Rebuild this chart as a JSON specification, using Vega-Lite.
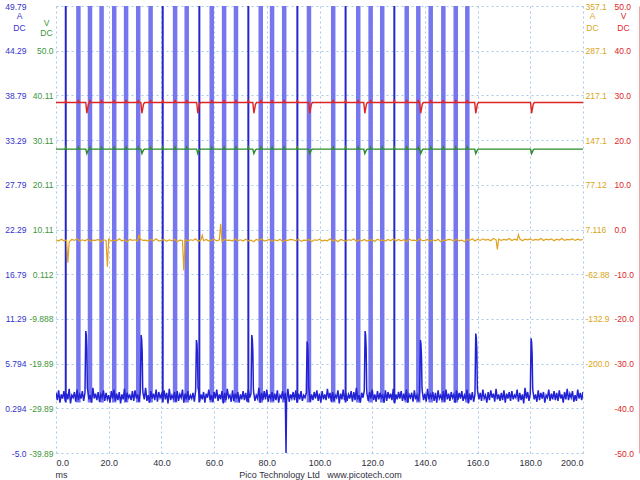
{
  "$schema": "https://vega.github.io/schema/vega-lite/v6.json",
  "width": 527,
  "height": 447,
  "autosize": "none",
  "padding": {"left": 56, "top": 6, "right": 57, "bottom": 27},
  "background": "white",
  "config": {
    "view": {"stroke": null},
    "locale": {"number": {"decimal": ".", "thousands": ",", "grouping": [3], "currency": ["$", ""], "minus": "-"}},
    "axis": {
      "labelFont": "Liberation Sans", "labelFontSize": 9,
      "titleFont": "Liberation Sans", "titleFontSize": 9, "titleFontWeight": "normal",
      "ticks": false, "domain": false, "grid": false, "labelOverlap": false, "labelBound": false
    }
  },
  "datasets": {
    "darkbars": [{"t": 3.7}, {"t": 40.5}, {"t": 54.4}, {"t": 73.0}, {"t": 91.6}, {"t": 109.9}, {"t": 128.4}],
    "lightbars": [
      {"t": 8.5}, {"t": 12.9}, {"t": 17.3}, {"t": 22.1}, {"t": 26.6}, {"t": 31.2}, {"t": 35.9},
      {"t": 45.2}, {"t": 49.6}, {"t": 59.1}, {"t": 63.8}, {"t": 68.3}, {"t": 77.7}, {"t": 82.0},
      {"t": 86.6}, {"t": 96.0}, {"t": 105.2}, {"t": 114.7}, {"t": 119.4}, {"t": 123.8}, {"t": 133.1},
      {"t": 137.5}, {"t": 142.2}, {"t": 147.0}, {"t": 151.7}, {"t": 156.1}
    ],
    "blue": [
      {"t":0,"v":2.2},{"t":0.5,"v":1.3},{"t":1,"v":2.5},{"t":1.5,"v":1.0},{"t":2,"v":2.0},{"t":2.5,"v":1.5},{"t":3,"v":2.4},{"t":3.5,"v":1.2},{"t":4,"v":2.1},{"t":4.5,"v":1.4},{"t":5,"v":2.7},{"t":5.5,"v":0.9},{"t":6,"v":1.9},{"t":6.5,"v":1.6},{"t":7,"v":2.3},{"t":7.5,"v":1.1},{"t":8,"v":2.6},{"t":8.5,"v":1.3},{"t":9,"v":2.0},{"t":9.5,"v":1.5},
      {"t":10,"v":2.4},{"t":10.5,"v":1.2},{"t":11,"v":2.2},{"t":11.3,"v":9.8},{"t":11.5,"v":9.3},{"t":11.7,"v":7.8},{"t":11.9,"v":2.8},{"t":12,"v":2.6},{"t":12.5,"v":1.4},{"t":13,"v":1.9},{"t":13.5,"v":1.0},{"t":14,"v":2.8},{"t":14.5,"v":1.5},{"t":15,"v":2.1},{"t":15.5,"v":1.3},{"t":16,"v":2.3},{"t":16.5,"v":1.1},{"t":17,"v":2.0},{"t":17.5,"v":1.6},{"t":18,"v":2.5},{"t":18.5,"v":1.2},{"t":19,"v":2.2},{"t":19.5,"v":1.4},
      {"t":20,"v":1.9},{"t":20.5,"v":1.0},{"t":21,"v":2.4},{"t":21.5,"v":1.5},{"t":22,"v":2.6},{"t":22.5,"v":1.2},{"t":23,"v":2.1},{"t":23.5,"v":1.3},{"t":24,"v":2.3},{"t":24.5,"v":0.9},{"t":25,"v":2.0},{"t":25.5,"v":1.4},{"t":26,"v":2.7},{"t":26.5,"v":1.1},{"t":27,"v":2.2},{"t":27.5,"v":1.6},{"t":28,"v":1.9},{"t":28.5,"v":1.3},{"t":29,"v":2.4},{"t":29.5,"v":1.2},
      {"t":30,"v":2.5},{"t":30.5,"v":1.5},{"t":31,"v":2.0},{"t":31.5,"v":1.1},{"t":32,"v":2.3},{"t":32.3,"v":9.3},{"t":32.5,"v":8.8},{"t":32.7,"v":7.3},{"t":32.9,"v":2.8},{"t":33,"v":2.2},{"t":33.5,"v":1.4},{"t":34,"v":2.8},{"t":34.5,"v":1.2},{"t":35,"v":1.9},{"t":35.5,"v":1.0},{"t":36,"v":2.4},{"t":36.5,"v":1.5},{"t":37,"v":2.1},{"t":37.5,"v":1.3},{"t":38,"v":2.6},{"t":38.5,"v":1.1},{"t":39,"v":2.3},{"t":39.5,"v":1.6},
      {"t":40,"v":2.0},{"t":40.5,"v":1.2},{"t":41,"v":2.5},{"t":41.5,"v":1.4},{"t":42,"v":2.2},{"t":42.5,"v":0.9},{"t":43,"v":2.7},{"t":43.5,"v":1.3},{"t":44,"v":1.9},{"t":44.5,"v":1.5},{"t":45,"v":2.3},{"t":45.5,"v":1.1},{"t":46,"v":2.4},{"t":46.5,"v":1.2},{"t":47,"v":2.0},{"t":47.5,"v":1.6},{"t":48,"v":2.6},{"t":48.5,"v":1.0},{"t":49,"v":2.1},{"t":49.5,"v":1.4},
      {"t":50,"v":2.4},{"t":50.5,"v":1.3},{"t":51,"v":1.9},{"t":51.5,"v":1.5},{"t":52,"v":2.2},{"t":52.5,"v":1.1},{"t":53,"v":2.5},{"t":53.3,"v":8.7},{"t":53.5,"v":8.2},{"t":53.7,"v":6.7},{"t":53.9,"v":2.8},{"t":54,"v":2.8},{"t":54.5,"v":1.2},{"t":55,"v":2.0},{"t":55.5,"v":1.4},{"t":56,"v":2.3},{"t":56.5,"v":1.0},{"t":57,"v":2.1},{"t":57.5,"v":1.6},{"t":58,"v":2.6},{"t":58.5,"v":1.3},{"t":59,"v":1.9},{"t":59.5,"v":1.1},
      {"t":60,"v":2.3},{"t":60.5,"v":1.5},{"t":61,"v":2.6},{"t":61.5,"v":1.2},{"t":62,"v":2.0},{"t":62.5,"v":1.4},{"t":63,"v":2.4},{"t":63.5,"v":0.9},{"t":64,"v":2.2},{"t":64.5,"v":1.3},{"t":65,"v":2.7},{"t":65.5,"v":1.6},{"t":66,"v":1.9},{"t":66.5,"v":1.1},{"t":67,"v":2.5},{"t":67.5,"v":1.2},{"t":68,"v":2.1},{"t":68.5,"v":1.5},{"t":69,"v":2.3},{"t":69.5,"v":1.0},
      {"t":70,"v":2.0},{"t":70.5,"v":1.4},{"t":71,"v":2.4},{"t":71.5,"v":1.3},{"t":72,"v":2.2},{"t":72.5,"v":1.1},{"t":73,"v":2.6},{"t":73.5,"v":1.6},{"t":74,"v":2.1},{"t":74.3,"v":9.3},{"t":74.5,"v":8.8},{"t":74.7,"v":7.3},{"t":74.9,"v":2.8},{"t":75,"v":2.3},{"t":75.5,"v":1.2},{"t":76,"v":1.9},{"t":76.5,"v":1.5},{"t":77,"v":2.8},{"t":77.5,"v":1.0},{"t":78,"v":2.2},{"t":78.5,"v":1.3},{"t":79,"v":2.4},{"t":79.5,"v":1.4},
      {"t":80,"v":2.6},{"t":80.5,"v":1.1},{"t":81,"v":2.0},{"t":81.5,"v":1.5},{"t":82,"v":2.3},{"t":82.5,"v":1.2},{"t":83,"v":2.1},{"t":83.5,"v":1.3},{"t":84,"v":2.5},{"t":84.5,"v":1.0},{"t":85,"v":1.9},{"t":85.5,"v":1.6},{"t":86,"v":2.4},{"t":86.5,"v":1.4},{"t":87,"v":2.2},{"t":87.3,"v":-5.2},{"t":87.5,"v":1.2},{"t":88,"v":2.7},{"t":88.5,"v":1.1},{"t":89,"v":2.0},{"t":89.5,"v":1.5},
      {"t":90,"v":2.3},{"t":90.5,"v":1.3},{"t":91,"v":2.5},{"t":91.5,"v":1.0},{"t":92,"v":2.1},{"t":92.5,"v":1.4},{"t":93,"v":2.4},{"t":93.5,"v":1.2},{"t":94,"v":1.9},{"t":94.5,"v":1.6},{"t":95,"v":2.2},{"t":95.3,"v":8.5},{"t":95.5,"v":8.0},{"t":95.7,"v":6.5},{"t":95.9,"v":2.8},{"t":96,"v":2.6},{"t":96.5,"v":1.1},{"t":97,"v":2.0},{"t":97.5,"v":1.3},{"t":98,"v":2.3},{"t":98.5,"v":1.5},{"t":99,"v":2.5},{"t":99.5,"v":1.2},
      {"t":100,"v":2.1},{"t":100.5,"v":1.0},{"t":101,"v":2.4},{"t":101.5,"v":1.4},{"t":102,"v":2.0},{"t":102.5,"v":1.3},{"t":103,"v":2.7},{"t":103.5,"v":1.5},{"t":104,"v":2.2},{"t":104.5,"v":1.1},{"t":105,"v":2.3},{"t":105.5,"v":1.2},{"t":106,"v":1.9},{"t":106.5,"v":1.6},{"t":107,"v":2.5},{"t":107.5,"v":0.9},{"t":108,"v":2.1},{"t":108.5,"v":1.4},{"t":109,"v":2.6},{"t":109.5,"v":1.3},
      {"t":110,"v":2.2},{"t":110.5,"v":1.2},{"t":111,"v":2.0},{"t":111.5,"v":1.5},{"t":112,"v":2.4},{"t":112.5,"v":1.1},{"t":113,"v":2.3},{"t":113.5,"v":1.3},{"t":114,"v":2.8},{"t":114.5,"v":1.4},{"t":115,"v":1.9},{"t":115.5,"v":1.0},{"t":116,"v":2.2},{"t":116.5,"v":1.6},{"t":117,"v":2.5},{"t":117.3,"v":9.8},{"t":117.5,"v":9.3},{"t":117.7,"v":7.8},{"t":117.9,"v":2.8},{"t":118,"v":2.1},{"t":118.5,"v":1.2},{"t":119,"v":2.3},{"t":119.5,"v":1.5},
      {"t":120,"v":2.6},{"t":120.5,"v":1.3},{"t":121,"v":2.0},{"t":121.5,"v":1.1},{"t":122,"v":2.4},{"t":122.5,"v":1.4},{"t":123,"v":2.2},{"t":123.5,"v":1.6},{"t":124,"v":1.9},{"t":124.5,"v":1.0},{"t":125,"v":2.5},{"t":125.5,"v":1.2},{"t":126,"v":2.3},{"t":126.5,"v":1.5},{"t":127,"v":2.1},{"t":127.5,"v":1.3},{"t":128,"v":2.7},{"t":128.5,"v":0.9},{"t":129,"v":2.0},{"t":129.5,"v":1.4},
      {"t":130,"v":2.3},{"t":130.5,"v":1.5},{"t":131,"v":2.4},{"t":131.5,"v":1.2},{"t":132,"v":2.1},{"t":132.5,"v":1.3},{"t":133,"v":2.6},{"t":133.5,"v":1.0},{"t":134,"v":2.0},{"t":134.5,"v":1.6},{"t":135,"v":2.2},{"t":135.5,"v":1.1},{"t":136,"v":2.5},{"t":136.5,"v":1.4},{"t":137,"v":1.9},{"t":137.5,"v":1.2},{"t":138,"v":2.3},{"t":138.3,"v":8.7},{"t":138.5,"v":8.2},{"t":138.7,"v":6.7},{"t":138.9,"v":2.8},{"t":139,"v":2.4},{"t":139.5,"v":1.3},
      {"t":140,"v":2.1},{"t":140.5,"v":1.1},{"t":141,"v":2.7},{"t":141.5,"v":1.4},{"t":142,"v":2.0},{"t":142.5,"v":1.6},{"t":143,"v":2.3},{"t":143.5,"v":1.2},{"t":144,"v":2.2},{"t":144.5,"v":1.0},{"t":145,"v":2.5},{"t":145.5,"v":1.5},{"t":146,"v":1.9},{"t":146.5,"v":1.3},{"t":147,"v":2.4},{"t":147.5,"v":1.1},{"t":148,"v":2.6},{"t":148.5,"v":1.4},{"t":149,"v":2.1},{"t":149.5,"v":1.2},
      {"t":150,"v":2.3},{"t":150.5,"v":1.6},{"t":151,"v":2.0},{"t":151.5,"v":1.0},{"t":152,"v":2.5},{"t":152.5,"v":1.3},{"t":153,"v":2.2},{"t":153.5,"v":1.5},{"t":154,"v":2.4},{"t":154.5,"v":1.2},{"t":155,"v":1.9},{"t":155.5,"v":1.4},{"t":156,"v":2.6},{"t":156.5,"v":0.9},{"t":157,"v":2.1},{"t":157.5,"v":1.3},{"t":158,"v":2.3},{"t":158.5,"v":1.1},{"t":159,"v":2.0},{"t":159.3,"v":9.5},{"t":159.5,"v":9.0},{"t":159.7,"v":7.5},{"t":159.9,"v":2.8},
      {"t":160,"v":2.4},{"t":160.5,"v":1.4},{"t":161,"v":2.2},{"t":161.5,"v":1.2},{"t":162,"v":2.6},{"t":162.5,"v":1.5},{"t":163,"v":1.9},{"t":163.5,"v":1.0},{"t":164,"v":2.3},{"t":164.5,"v":1.3},{"t":165,"v":2.5},{"t":165.5,"v":1.6},{"t":166,"v":2.1},{"t":166.5,"v":1.1},{"t":167,"v":2.7},{"t":167.5,"v":1.4},{"t":168,"v":2.0},{"t":168.5,"v":1.2},{"t":169,"v":2.2},{"t":169.5,"v":1.3},
      {"t":170,"v":2.5},{"t":170.5,"v":1.0},{"t":171,"v":2.1},{"t":171.5,"v":1.5},{"t":172,"v":2.3},{"t":172.5,"v":1.2},{"t":173,"v":2.4},{"t":173.5,"v":1.4},{"t":174,"v":1.9},{"t":174.5,"v":1.6},{"t":175,"v":2.6},{"t":175.5,"v":1.1},{"t":176,"v":2.2},{"t":176.5,"v":1.3},{"t":177,"v":2.0},{"t":177.5,"v":0.9},{"t":178,"v":2.8},{"t":178.5,"v":1.5},{"t":179,"v":2.3},{"t":179.5,"v":1.2},
      {"t":180,"v":2.1},{"t":180.3,"v":8.9},{"t":180.5,"v":8.4},{"t":180.7,"v":6.9},{"t":180.9,"v":2.8},{"t":181,"v":2.4},{"t":181.5,"v":1.4},{"t":182,"v":2.0},{"t":182.5,"v":1.1},{"t":183,"v":2.5},{"t":183.5,"v":1.3},{"t":184,"v":2.2},{"t":184.5,"v":1.5},{"t":185,"v":2.3},{"t":185.5,"v":1.0},{"t":186,"v":1.9},{"t":186.5,"v":1.6},{"t":187,"v":2.6},{"t":187.5,"v":1.2},{"t":188,"v":2.1},{"t":188.5,"v":1.4},{"t":189,"v":2.4},{"t":189.5,"v":1.3},
      {"t":190,"v":2.2},{"t":190.5,"v":1.2},{"t":191,"v":2.5},{"t":191.5,"v":1.5},{"t":192,"v":2.0},{"t":192.5,"v":1.0},{"t":193,"v":2.3},{"t":193.5,"v":1.4},{"t":194,"v":2.7},{"t":194.5,"v":1.3},{"t":195,"v":2.1},{"t":195.5,"v":1.6},{"t":196,"v":2.4},{"t":196.5,"v":1.1},{"t":197,"v":1.9},{"t":197.5,"v":1.2},{"t":198,"v":2.6},{"t":198.5,"v":1.5},{"t":199,"v":2.2},{"t":199.5,"v":1.3},
      {"t":200,"v":2.3}
    ],
    "orange": [
      {"t":0,"v":-9},{"t":1,"v":-11},{"t":2,"v":-8},{"t":3,"v":-10.5},{"t":4,"v":-9.5},{"t":4.5,"v":-45},{"t":5,"v":-12},{"t":6,"v":-8.5},{"t":7,"v":-10},{"t":8,"v":-7.5},{"t":9,"v":-11},
      {"t":10,"v":-9},{"t":11,"v":-10.5},{"t":12,"v":-8},{"t":13,"v":-11.5},{"t":14,"v":-9.5},{"t":15,"v":-10},{"t":16,"v":-8.5},{"t":17,"v":-12},{"t":18,"v":-9},{"t":19,"v":-10},{"t":19.5,"v":-51},
      {"t":20,"v":-8},{"t":21,"v":-11},{"t":22,"v":-9.5},{"t":23,"v":-10.5},{"t":24,"v":-7.5},{"t":25,"v":-11},{"t":26,"v":-9},{"t":27,"v":-12},{"t":28,"v":-8.5},{"t":29,"v":-10},
      {"t":30,"v":-9},{"t":31,"v":-11.5},{"t":31.5,"v":-1},{"t":32,"v":-8},{"t":33,"v":-10},{"t":34,"v":-9.5},{"t":35,"v":-11},{"t":36,"v":-8.5},{"t":37,"v":-10.5},{"t":38,"v":-7.5},{"t":39,"v":-11},
      {"t":40,"v":-10},{"t":41,"v":-8.5},{"t":42,"v":-11.5},{"t":43,"v":-9},{"t":44,"v":-10.5},{"t":45,"v":-8},{"t":46,"v":-12},{"t":47,"v":-9.5},{"t":48,"v":-10},{"t":48.5,"v":-57},{"t":49,"v":-8.5},
      {"t":50,"v":-11},{"t":51,"v":-9},{"t":52,"v":-10},{"t":53,"v":-7.5},{"t":54,"v":-11.5},{"t":55,"v":-9},{"t":55.5,"v":-2},{"t":56,"v":-10.5},{"t":57,"v":-8.5},{"t":58,"v":-11},{"t":59,"v":-9.5},
      {"t":60,"v":-8.5},{"t":61,"v":-10.5},{"t":62,"v":-9},{"t":62.5,"v":16},{"t":63,"v":-12},{"t":64,"v":-8},{"t":65,"v":-10},{"t":66,"v":-9.5},{"t":67,"v":-11},{"t":68,"v":-7.5},{"t":69,"v":-10.5},
      {"t":70,"v":-9},{"t":71,"v":-11},{"t":72,"v":-8},{"t":73,"v":-10.5},{"t":74,"v":-9.5},{"t":75,"v":-12},{"t":76,"v":-8.5},{"t":77,"v":-10},{"t":78,"v":-7.5},{"t":79,"v":-11},
      {"t":80,"v":-10},{"t":81,"v":-8.5},{"t":82,"v":-11.5},{"t":83,"v":-9},{"t":84,"v":-10.5},{"t":85,"v":-8},{"t":86,"v":-12},{"t":87,"v":-9.5},{"t":88,"v":-10},{"t":89,"v":-8.5},
      {"t":90,"v":-9},{"t":91,"v":-10.5},{"t":92,"v":-8},{"t":93,"v":-11.5},{"t":94,"v":-9.5},{"t":95,"v":-10},{"t":96,"v":-8.5},{"t":97,"v":-12},{"t":98,"v":-9},{"t":99,"v":-10},
      {"t":100,"v":-8},{"t":101,"v":-11},{"t":102,"v":-9.5},{"t":103,"v":-10.5},{"t":104,"v":-7.5},{"t":105,"v":-11},{"t":106,"v":-9},{"t":107,"v":-12},{"t":108,"v":-8.5},{"t":109,"v":-10},
      {"t":110,"v":-11},{"t":111,"v":-9},{"t":112,"v":-10},{"t":113,"v":-7.5},{"t":114,"v":-11.5},{"t":115,"v":-9},{"t":116,"v":-10.5},{"t":117,"v":-8.5},{"t":118,"v":-11},{"t":119,"v":-9.5},
      {"t":120,"v":-9},{"t":121,"v":-11.5},{"t":122,"v":-8},{"t":123,"v":-10},{"t":124,"v":-9.5},{"t":125,"v":-11},{"t":126,"v":-8.5},{"t":127,"v":-10.5},{"t":128,"v":-7.5},{"t":129,"v":-11},
      {"t":130,"v":-8.5},{"t":131,"v":-10.5},{"t":132,"v":-9},{"t":133,"v":-12},{"t":134,"v":-8},{"t":135,"v":-10},{"t":136,"v":-9.5},{"t":137,"v":-11},{"t":138,"v":-7.5},{"t":139,"v":-10.5},
      {"t":140,"v":-10},{"t":141,"v":-8.5},{"t":142,"v":-11.5},{"t":143,"v":-9},{"t":144,"v":-10.5},{"t":145,"v":-8},{"t":146,"v":-12},{"t":147,"v":-9.5},{"t":148,"v":-10},{"t":149,"v":-8.5},
      {"t":150,"v":-9},{"t":151,"v":-11},{"t":152,"v":-8},{"t":153,"v":-10.5},{"t":154,"v":-9.5},{"t":155,"v":-12},{"t":156,"v":-8.5},{"t":157,"v":-10},{"t":158,"v":-7.5},{"t":159,"v":-11},
      {"t":160,"v":-8},{"t":161,"v":-10},{"t":162,"v":-7.5},{"t":163,"v":-9.5},{"t":164,"v":-8.5},{"t":165,"v":-10.5},{"t":166,"v":-7},{"t":167,"v":-9},{"t":167.5,"v":-24},{"t":168,"v":-8},{"t":169,"v":-10},
      {"t":170,"v":-8.5},{"t":171,"v":-9.5},{"t":172,"v":-7},{"t":173,"v":-10},{"t":174,"v":-8},{"t":175,"v":-9.5},{"t":175.5,"v":-1},{"t":176,"v":-7.5},{"t":177,"v":-10.5},{"t":178,"v":-8},{"t":179,"v":-9},
      {"t":180,"v":-7.5},{"t":181,"v":-10},{"t":182,"v":-8.5},{"t":183,"v":-9.5},{"t":184,"v":-7},{"t":185,"v":-10},{"t":186,"v":-8},{"t":187,"v":-9},{"t":188,"v":-7.5},{"t":189,"v":-10.5},
      {"t":190,"v":-8},{"t":191,"v":-9.5},{"t":192,"v":-7},{"t":193,"v":-10},{"t":194,"v":-8.5},{"t":195,"v":-9},{"t":196,"v":-7.5},{"t":197,"v":-10},{"t":198,"v":-8},{"t":199,"v":-9.5},
      {"t":200,"v":-8.5}
    ],
    "rg": [
      {"t":0,"r":28.4,"g":28.1},
      {"t":3.5,"r":28.4,"g":28.1},{"t":3.7,"r":29.0,"g":28.5},{"t":3.9,"r":28.4,"g":28.1},
      {"t":8.3,"r":28.4,"g":28.1},{"t":8.5,"r":29.0,"g":28.5},{"t":8.7,"r":28.4,"g":28.1},
      {"t":11.3,"r":28.4,"g":28.1},{"t":11.7,"r":26.0,"g":27.1},{"t":12.3,"r":28.0,"g":27.9},{"t":12.7,"r":28.4,"g":28.1},
      {"t":12.9,"r":29.0,"g":28.5},{"t":13.1,"r":28.4,"g":28.1},
      {"t":17.1,"r":28.4,"g":28.1},{"t":17.3,"r":29.0,"g":28.5},{"t":17.5,"r":28.4,"g":28.1},
      {"t":21.9,"r":28.4,"g":28.1},{"t":22.1,"r":29.0,"g":28.5},{"t":22.3,"r":28.4,"g":28.1},
      {"t":26.4,"r":28.4,"g":28.1},{"t":26.6,"r":29.0,"g":28.5},{"t":26.8,"r":28.4,"g":28.1},
      {"t":31.0,"r":28.4,"g":28.1},{"t":31.2,"r":29.0,"g":28.5},{"t":31.4,"r":28.4,"g":28.1},
      {"t":32.2,"r":28.4,"g":28.1},{"t":32.6,"r":26.0,"g":27.1},{"t":33.2,"r":28.0,"g":27.9},{"t":33.6,"r":28.4,"g":28.1},
      {"t":35.7,"r":28.4,"g":28.1},{"t":35.9,"r":29.0,"g":28.5},{"t":36.1,"r":28.4,"g":28.1},
      {"t":40.3,"r":28.4,"g":28.1},{"t":40.5,"r":29.0,"g":28.5},{"t":40.7,"r":28.4,"g":28.1},
      {"t":45.0,"r":28.4,"g":28.1},{"t":45.2,"r":29.0,"g":28.5},{"t":45.4,"r":28.4,"g":28.1},
      {"t":49.4,"r":28.4,"g":28.1},{"t":49.6,"r":29.0,"g":28.5},{"t":49.8,"r":28.4,"g":28.1},
      {"t":53.4,"r":28.4,"g":28.1},{"t":53.8,"r":26.0,"g":27.1},{"t":54.4,"r":28.0,"g":27.9},{"t":54.8,"r":28.4,"g":28.1},
      {"t":58.9,"r":28.4,"g":28.1},{"t":59.1,"r":29.0,"g":28.5},{"t":59.3,"r":28.4,"g":28.1},
      {"t":63.6,"r":28.4,"g":28.1},{"t":63.8,"r":29.0,"g":28.5},{"t":64.0,"r":28.4,"g":28.1},
      {"t":68.1,"r":28.4,"g":28.1},{"t":68.3,"r":29.0,"g":28.5},{"t":68.5,"r":28.4,"g":28.1},
      {"t":72.8,"r":28.4,"g":28.1},{"t":73.0,"r":29.0,"g":28.5},{"t":73.2,"r":28.4,"g":28.1},
      {"t":74.7,"r":28.4,"g":28.1},{"t":75.1,"r":26.0,"g":27.1},{"t":75.7,"r":28.0,"g":27.9},{"t":76.1,"r":28.4,"g":28.1},
      {"t":77.5,"r":28.4,"g":28.1},{"t":77.7,"r":29.0,"g":28.5},{"t":77.9,"r":28.4,"g":28.1},
      {"t":81.8,"r":28.4,"g":28.1},{"t":82.0,"r":29.0,"g":28.5},{"t":82.2,"r":28.4,"g":28.1},
      {"t":86.4,"r":28.4,"g":28.1},{"t":86.6,"r":29.0,"g":28.5},{"t":86.8,"r":28.4,"g":28.1},
      {"t":91.4,"r":28.4,"g":28.1},{"t":91.6,"r":29.0,"g":28.5},{"t":91.8,"r":28.4,"g":28.1},
      {"t":95.9,"r":28.4,"g":28.1},{"t":96.3,"r":26.0,"g":27.1},{"t":96.9,"r":28.0,"g":27.9},{"t":97.3,"r":28.4,"g":28.1},
      {"t":105.0,"r":28.4,"g":28.1},{"t":105.2,"r":29.0,"g":28.5},{"t":105.4,"r":28.4,"g":28.1},
      {"t":109.7,"r":28.4,"g":28.1},{"t":109.9,"r":29.0,"g":28.5},{"t":110.1,"r":28.4,"g":28.1},
      {"t":114.5,"r":28.4,"g":28.1},{"t":114.7,"r":29.0,"g":28.5},{"t":114.9,"r":28.4,"g":28.1},
      {"t":116.8,"r":28.4,"g":28.1},{"t":117.2,"r":26.0,"g":27.1},{"t":117.8,"r":28.0,"g":27.9},{"t":118.2,"r":28.4,"g":28.1},
      {"t":119.2,"r":28.4,"g":28.1},{"t":119.4,"r":29.0,"g":28.5},{"t":119.6,"r":28.4,"g":28.1},
      {"t":123.6,"r":28.4,"g":28.1},{"t":123.8,"r":29.0,"g":28.5},{"t":124.0,"r":28.4,"g":28.1},
      {"t":128.2,"r":28.4,"g":28.1},{"t":128.4,"r":29.0,"g":28.5},{"t":128.6,"r":28.4,"g":28.1},
      {"t":132.9,"r":28.4,"g":28.1},{"t":133.1,"r":29.0,"g":28.5},{"t":133.3,"r":28.4,"g":28.1},
      {"t":137.3,"r":28.4,"g":28.1},{"t":137.5,"r":29.0,"g":28.5},{"t":137.7,"r":28.4,"g":28.1},
      {"t":138.0,"r":28.4,"g":28.1},{"t":138.4,"r":26.0,"g":27.1},{"t":139.0,"r":28.0,"g":27.9},{"t":139.4,"r":28.4,"g":28.1},
      {"t":142.0,"r":28.4,"g":28.1},{"t":142.2,"r":29.0,"g":28.5},{"t":142.4,"r":28.4,"g":28.1},
      {"t":146.8,"r":28.4,"g":28.1},{"t":147.0,"r":29.0,"g":28.5},{"t":147.2,"r":28.4,"g":28.1},
      {"t":151.5,"r":28.4,"g":28.1},{"t":151.7,"r":29.0,"g":28.5},{"t":151.9,"r":28.4,"g":28.1},
      {"t":155.9,"r":28.4,"g":28.1},{"t":156.1,"r":29.0,"g":28.5},{"t":156.3,"r":28.4,"g":28.1},
      {"t":158.9,"r":28.4,"g":28.1},{"t":159.3,"r":26.0,"g":27.1},{"t":159.9,"r":28.0,"g":27.9},{"t":160.3,"r":28.4,"g":28.1},
      {"t":180.1,"r":28.4,"g":28.1},{"t":180.5,"r":26.0,"g":27.1},{"t":181.1,"r":28.0,"g":27.9},{"t":181.5,"r":28.4,"g":28.1},
      {"t":200,"r":28.4,"g":28.1}
    ]
  },
  "resolve": {"scale": {"y": "independent"}, "axis": {"x": "independent", "y": "independent"}},
  "layer": [
    {
      "layer": [
        {
          "data": {"name": "lightbars"},
          "mark": {"type": "rule", "clip": true, "color": "#7676ee", "strokeWidth": 4.5},
          "encoding": {
            "x": {
              "field": "t", "type": "quantitative",
              "scale": {"domain": [0, 200], "nice": false, "zero": false},
              "axis": {
                "orient": "bottom",
                "values": [0, 20, 40, 60, 80, 100, 120, 140, 160, 180, 200],
                "format": ".1f", "labelColor": "#303040", "labelPadding": 5,
                "grid": true, "gridColor": "#a8c8e8", "gridDash": [2, 3],
                "title": "Pico Technology Ltd\u00a0\u00a0\u00a0www.picotech.com",
                "titleColor": "#303040", "titleX": 264, "titleY": 21.5,
                "titleAlign": "center", "titleBaseline": "middle"
              }
            },
            "y": {
              "datum": 1.0, "type": "quantitative",
              "scale": {"domain": [-5.206, 49.794], "nice": false, "zero": false},
              "axis": {
                "orient": "left",
                "values": [49.794, 44.294, 38.794, 33.294, 27.794, 22.294, 16.794, 11.294, 5.794, 0.294, -5.206],
                "labelExpr": "datum.value < -5.1 ? '-5.0' : format(datum.value, '.4~r')",
                "labelColor": "#3333cc", "labelPadding": 30, "labelFontSize": 8.5,
                "grid": true, "gridColor": "#a8c8e8", "gridDash": [2, 3],
                "title": ["A", "DC"], "titleColor": "#3333cc", "titleAngle": 0, "titleFontSize": 8.5,
                "titleX": -37, "titleY": 5, "titleAlign": "center", "titleBaseline": "top", "titleLineHeight": 12
              }
            },
            "y2": {"datum": 49.794}
          }
        },
        {
          "data": {"name": "darkbars"},
          "mark": {"type": "rule", "clip": true, "color": "#2626cc", "strokeWidth": 2},
          "encoding": {
            "x": {"field": "t", "type": "quantitative"},
            "y": {"datum": 1.0, "type": "quantitative"},
            "y2": {"datum": 49.794}
          }
        },
        {
          "data": {"name": "blue"},
          "mark": {"type": "line", "clip": true, "color": "#2222d4", "strokeWidth": 1.5},
          "encoding": {
            "x": {"field": "t", "type": "quantitative"},
            "y": {"field": "v", "type": "quantitative"}
          }
        }
      ]
    },
    {
      "data": {"name": "rg"},
      "mark": {"type": "line", "clip": true, "color": "#2a8c2a", "strokeWidth": 1.4},
      "encoding": {
        "x": {"field": "t", "type": "quantitative", "axis": null},
        "y": {
          "field": "g", "type": "quantitative",
          "scale": {"domain": [-39.888, 60.112], "nice": false, "zero": false},
          "axis": {
            "orient": "left",
            "values": [50.112, 40.112, 30.112, 20.112, 10.112, 0.112, -9.888, -19.888, -29.888, -39.888],
            "labelExpr": "datum.value > 50 && datum.value < 51 ? '50.0' : format(datum.value, '.4~r')",
            "labelColor": "#3c963c", "labelPadding": 3, "labelFontSize": 8.5,
            "title": ["V", "DC"], "titleColor": "#3c963c", "titleAngle": 0, "titleFontSize": 8.5,
            "titleX": -10, "titleY": 12.5, "titleAlign": "center", "titleBaseline": "top", "titleLineHeight": 10
          }
        }
      }
    },
    {
      "data": {"name": "orange"},
      "mark": {"type": "line", "clip": true, "color": "#e0a21e", "strokeWidth": 1.2},
      "encoding": {
        "x": {"field": "t", "type": "quantitative", "axis": null},
        "y": {
          "field": "v", "type": "quantitative",
          "scale": {"domain": [-342.884, 357.116], "nice": false, "zero": false},
          "axis": {
            "orient": "right",
            "values": [357.116, 287.116, 217.116, 147.116, 77.116, 7.116, -62.884, -132.884, -202.884],
            "labelExpr": "datum.value < -200 ? '-200.0' : format(datum.value, '.4~r')",
            "labelColor": "#d9a520", "labelPadding": 2, "labelFontSize": 8.5,
            "title": ["A", "DC"], "titleColor": "#d9a520", "titleAngle": 0, "titleFontSize": 8.5,
            "titleX": 9, "titleY": 5, "titleAlign": "center", "titleBaseline": "top", "titleLineHeight": 12
          }
        }
      }
    },
    {
      "data": {"name": "rg"},
      "mark": {"type": "line", "clip": true, "color": "#e02424", "strokeWidth": 1.4},
      "encoding": {
        "x": {
          "field": "t", "type": "quantitative",
          "axis": {
            "orient": "bottom", "labels": false, "grid": false,
            "title": "ms", "titleColor": "#303040", "titleX": 5, "titleY": 21,
            "titleAlign": "center", "titleBaseline": "middle"
          }
        },
        "y": {
          "field": "r", "type": "quantitative",
          "scale": {"domain": [-50, 50], "nice": false, "zero": false},
          "axis": {
            "orient": "right", "offset": 56, "domain": true, "domainColor": "#f2a4a4",
            "values": [50, 40, 30, 20, 10, 0, -10, -20, -30, -40, -50],
            "format": ".1f", "labelColor": "#e02424", "labelPadding": -25, "labelFontSize": 8.5,
            "title": ["V", "DC"], "titleColor": "#e02424", "titleAngle": 0, "titleFontSize": 8.5,
            "titleX": -16, "titleY": 5, "titleAlign": "center", "titleBaseline": "top", "titleLineHeight": 12
          }
        }
      }
    }
  ]
}
